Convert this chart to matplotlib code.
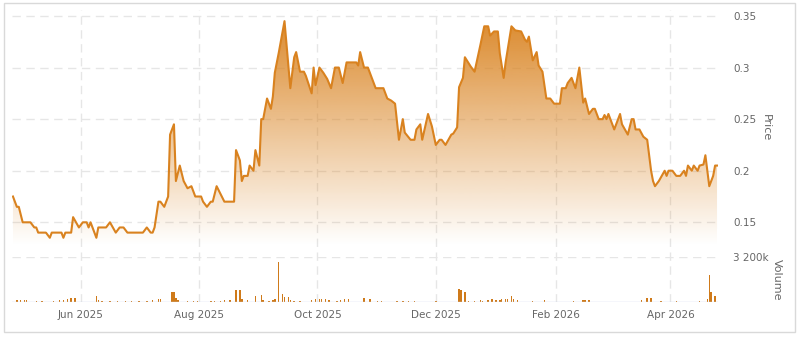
import matplotlib
matplotlib.use('Agg')
import matplotlib.pyplot as plt
import matplotlib.dates as mdates
from matplotlib.patches import Rectangle
import numpy as np
import pandas as pd

# price line, vertices
price_dates = [
    '2025-04-27', '2025-04-29', '2025-04-30', '2025-05-02', '2025-05-06', '2025-05-08', '2025-05-09', '2025-05-10',
    '2025-05-14', '2025-05-16', '2025-05-17', '2025-05-22', '2025-05-23', '2025-05-24', '2025-05-27', '2025-05-28',
    '2025-05-31',
    '2025-06-02', '2025-06-04', '2025-06-05', '2025-06-06', '2025-06-08', '2025-06-09', '2025-06-10', '2025-06-14',
    '2025-06-16', '2025-06-19', '2025-06-21', '2025-06-23', '2025-06-25',
    '2025-07-03', '2025-07-05', '2025-07-07', '2025-07-08', '2025-07-09', '2025-07-11', '2025-07-12', '2025-07-14',
    '2025-07-16', '2025-07-17', '2025-07-19', '2025-07-20', '2025-07-22', '2025-07-24', '2025-07-26', '2025-07-28',
    '2025-07-30',
    '2025-08-02', '2025-08-03', '2025-08-05', '2025-08-07', '2025-08-08', '2025-08-10', '2025-08-14', '2025-08-19',
    '2025-08-20', '2025-08-22', '2025-08-23', '2025-08-24', '2025-08-26', '2025-08-27', '2025-08-29', '2025-08-30',
    '2025-09-01', '2025-09-02', '2025-09-03', '2025-09-05', '2025-09-07', '2025-09-08', '2025-09-09', '2025-09-11',
    '2025-09-14', '2025-09-17', '2025-09-19', '2025-09-20', '2025-09-22', '2025-09-24', '2025-09-25', '2025-09-28',
    '2025-09-29', '2025-09-30',
    '2025-10-02', '2025-10-04', '2025-10-06', '2025-10-08', '2025-10-10', '2025-10-12', '2025-10-14', '2025-10-16',
    '2025-10-21', '2025-10-22', '2025-10-23', '2025-10-25', '2025-10-27', '2025-10-31',
    '2025-11-04', '2025-11-06', '2025-11-08', '2025-11-10', '2025-11-12', '2025-11-14', '2025-11-15', '2025-11-18',
    '2025-11-20', '2025-11-21', '2025-11-23', '2025-11-24', '2025-11-27', '2025-11-29',
    '2025-12-01', '2025-12-03', '2025-12-04', '2025-12-06', '2025-12-09', '2025-12-10', '2025-12-12', '2025-12-13',
    '2025-12-15', '2025-12-16', '2025-12-19', '2025-12-21', '2025-12-24', '2025-12-26', '2025-12-28', '2025-12-29',
    '2025-12-31',
    '2026-01-02', '2026-01-03', '2026-01-05', '2026-01-06', '2026-01-09', '2026-01-11', '2026-01-14', '2026-01-16',
    '2026-01-17', '2026-01-18', '2026-01-20', '2026-01-22', '2026-01-23', '2026-01-25', '2026-01-27', '2026-01-29',
    '2026-01-31',
    '2026-02-03', '2026-02-04', '2026-02-06', '2026-02-07', '2026-02-09', '2026-02-11', '2026-02-13', '2026-02-15',
    '2026-02-16', '2026-02-18', '2026-02-20', '2026-02-21', '2026-02-23', '2026-02-25', '2026-02-26', '2026-02-27',
    '2026-02-28',
    '2026-03-01', '2026-03-03', '2026-03-04', '2026-03-06', '2026-03-07', '2026-03-10', '2026-03-12', '2026-03-13',
    '2026-03-14', '2026-03-16', '2026-03-18', '2026-03-20', '2026-03-22', '2026-03-23', '2026-03-24', '2026-03-26',
    '2026-03-29', '2026-03-30', '2026-03-31',
    '2026-04-02', '2026-04-04', '2026-04-06', '2026-04-08', '2026-04-09', '2026-04-10', '2026-04-12', '2026-04-13',
    '2026-04-15', '2026-04-16', '2026-04-18', '2026-04-19', '2026-04-21', '2026-04-23', '2026-04-24', '2026-04-25',
]
price_values = [
    0.175, 0.165, 0.165, 0.15, 0.15, 0.145, 0.145, 0.14, 0.14, 0.135, 0.14, 0.14, 0.135, 0.14, 0.14, 0.155, 0.145,
    0.15, 0.15, 0.145, 0.15, 0.14, 0.135, 0.145, 0.145, 0.15, 0.14, 0.145, 0.145, 0.14,
    0.14, 0.145, 0.14, 0.14, 0.145, 0.17, 0.17, 0.165, 0.175, 0.235, 0.245, 0.19, 0.205, 0.19, 0.183, 0.185, 0.175,
    0.175, 0.17, 0.165, 0.17, 0.17, 0.185, 0.17, 0.17, 0.22, 0.21, 0.19, 0.195, 0.195, 0.205, 0.2, 0.22,
    0.205, 0.25, 0.25, 0.27, 0.26, 0.272, 0.295, 0.314, 0.345, 0.28, 0.31, 0.315, 0.296, 0.296, 0.292, 0.275, 0.30, 0.283,
    0.30, 0.295, 0.289, 0.28, 0.30, 0.30, 0.285, 0.305, 0.305, 0.302, 0.315, 0.30, 0.30, 0.28,
    0.28, 0.27, 0.268, 0.265, 0.23, 0.25, 0.237, 0.23, 0.23, 0.24, 0.245, 0.23, 0.255, 0.243,
    0.225, 0.23, 0.23, 0.225, 0.235, 0.236, 0.242, 0.281, 0.29, 0.31, 0.301, 0.296, 0.322, 0.34, 0.34, 0.331, 0.335,
    0.335, 0.314, 0.29, 0.305, 0.34, 0.336, 0.335, 0.327, 0.325, 0.33, 0.307, 0.315, 0.302, 0.296, 0.27, 0.27, 0.265,
    0.265, 0.28, 0.28, 0.285, 0.29, 0.28, 0.30, 0.266, 0.27, 0.255, 0.26, 0.26, 0.25, 0.25, 0.254, 0.25, 0.255,
    0.25, 0.24, 0.245, 0.255, 0.245, 0.235, 0.25, 0.25, 0.24, 0.24, 0.233, 0.23, 0.2, 0.19, 0.185, 0.19, 0.2, 0.195, 0.2,
    0.2, 0.195, 0.195, 0.2, 0.195, 0.205, 0.2, 0.205, 0.2, 0.205, 0.206, 0.215, 0.185, 0.195, 0.205, 0.205,
]

# volume bars (thousands)
vol_dates = [
    '2025-04-29', '2025-05-01', '2025-05-03', '2025-05-04', '2025-05-09', '2025-05-12', '2025-05-18', '2025-05-21',
    '2025-05-23', '2025-05-25', '2025-05-27', '2025-05-29',
    '2025-06-09', '2025-06-10', '2025-06-12', '2025-06-16', '2025-06-20', '2025-06-24', '2025-06-27',
    '2025-07-01', '2025-07-05', '2025-07-08', '2025-07-11', '2025-07-12', '2025-07-18', '2025-07-19', '2025-07-20',
    '2025-07-21', '2025-07-26', '2025-07-29', '2025-07-31',
    '2025-08-07', '2025-08-09', '2025-08-12', '2025-08-14', '2025-08-17', '2025-08-20', '2025-08-22', '2025-08-23',
    '2025-08-26', '2025-08-30',
    '2025-09-02', '2025-09-03', '2025-09-06', '2025-09-08', '2025-09-09', '2025-09-11', '2025-09-13', '2025-09-14',
    '2025-09-16', '2025-09-17', '2025-09-19', '2025-09-22', '2025-09-28', '2025-09-30',
    '2025-10-02', '2025-10-03', '2025-10-05', '2025-10-07', '2025-10-11', '2025-10-13', '2025-10-15', '2025-10-17',
    '2025-10-25', '2025-10-28',
    '2025-11-01', '2025-11-03', '2025-11-11', '2025-11-14', '2025-11-17', '2025-11-20',
    '2025-12-01', '2025-12-13', '2025-12-14', '2025-12-16', '2025-12-18', '2025-12-21', '2025-12-24', '2025-12-25',
    '2025-12-28', '2025-12-30',
    '2026-01-01', '2026-01-03', '2026-01-04', '2026-01-06', '2026-01-07', '2026-01-09', '2026-01-10', '2026-01-12',
    '2026-01-20', '2026-01-26',
    '2026-02-10', '2026-02-15', '2026-02-16', '2026-02-18',
    '2026-03-17', '2026-03-20', '2026-03-22', '2026-03-27',
    '2026-04-04', '2026-04-16', '2026-04-20', '2026-04-21', '2026-04-22', '2026-04-24',
]
vol_values = [
    160, 120, 120, 120, 90, 90, 90, 120, 140, 190, 300, 300,
    430, 140, 90, 90, 90, 90, 90,
    90, 90, 120, 210, 210, 710, 710, 280, 140, 70, 70, 70,
    90, 70, 70, 120, 140, 850, 850, 210, 120, 430,
    500, 140, 90, 140, 210, 2850, 570, 360, 360, 160, 90, 90, 120, 210,
    230, 230, 190, 140, 90, 140, 190, 190, 280, 210,
    90, 90, 70, 70, 70, 70,
    70, 920, 850, 710, 90, 90, 160, 90, 120, 210,
    120, 160, 190, 190, 210, 430, 230, 120, 70, 120,
    90, 140, 160, 120,
    160, 260, 310, 70,
    90, 70, 210, 1900, 740, 400,
]

price_ticks = [0.15, 0.2, 0.25, 0.3, 0.35]
price_labels = ['0.15', '0.2', '0.25', '0.3', '0.35']

line_c = '#d9821f'
bar_c = '#cf7a1a'
grid_c = '#e6e6e6'
text_c = '#666666'

W, H = 800, 337


def box(x0, y0, x1, y1):
    # pixel box (top-left origin) -> figure fraction rect
    return [x0 / W, 1 - y1 / H, (x1 - x0) / W, (y1 - y0) / H]


pd_dates = pd.to_datetime(price_dates)
vd = pd.to_datetime(vol_dates)
xmin = mdates.date2num(pd.Timestamp('2025-04-26 12:00'))
xmax = mdates.date2num(pd.Timestamp('2026-04-25 12:00'))
pmin, pmax = 0.128, 0.3558

fig = plt.figure(figsize=(8, 3.37), dpi=100)
fig.patches.append(Rectangle((4 / W, 1 - 332 / H), 791 / W, 329 / H, transform=fig.transFigure,
                             fill=False, edgecolor='#d9d9d9', lw=1))

# background axes carries the month grid and labels for both panes
ax_bg = fig.add_axes(box(12, 10, 718, 302))
ax_bg.set_xlim(xmin, xmax)
ax_bg.set_yticks([])
ax_bg.xaxis.set_major_locator(mdates.MonthLocator(bymonth=[2, 4, 6, 8, 10, 12]))
ax_bg.xaxis.set_major_formatter(mdates.DateFormatter('%b %Y'))
ax_bg.tick_params(axis='x', length=0, pad=6, labelsize=7.5, labelcolor=text_c)
ax_bg.grid(axis='x', color=grid_c, lw=1, dashes=(6, 4))
for s in ax_bg.spines.values():
    s.set_visible(False)

# price pane
ax_p = fig.add_axes(box(12, 10, 718, 245))
ax_p.set_facecolor('none')
poly = ax_p.fill_between(pd_dates, price_values, pmin, color='none', lw=0)
grad = np.zeros((256, 1, 4))
grad[:, 0, :3] = matplotlib.colors.to_rgb(line_c)
grad[:, 0, 3] = np.linspace(0.0, 0.97, 256)
im = ax_p.imshow(grad, extent=[xmin, xmax, pmin, pmax], origin='lower', aspect='auto', zorder=1)
im.set_clip_path(poly.get_paths()[0], transform=ax_p.transData)
ax_p.plot(pd_dates, price_values, color=line_c, lw=1.5, zorder=3)
ax_p.set_xlim(xmin, xmax)
ax_p.set_ylim(pmin, pmax)
ax_p.set_xticks([])
ax_p.yaxis.tick_right()
ax_p.set_yticks(price_ticks)
ax_p.set_yticklabels(price_labels)
ax_p.tick_params(axis='y', length=0, pad=11, labelsize=7.5, labelcolor=text_c)
ax_p.grid(axis='y', color=grid_c, lw=1, dashes=(6, 4), zorder=0)
ax_p.set_axisbelow(True)
for s in ax_p.spines.values():
    s.set_visible(False)

# volume pane
ax_v = fig.add_axes(box(12, 257, 718, 302))
ax_v.set_facecolor('none')
ax_v.bar(vd, vol_values, width=0.75, color=bar_c, lw=0, zorder=2)
ax_v.axhline(0, color='#ccd6eb', lw=1, zorder=3)
ax_v.set_xlim(xmin, xmax)
ax_v.set_ylim(0, 3200)
ax_v.set_xticks([])
ax_v.yaxis.tick_right()
ax_v.set_yticks([3200])
ax_v.set_yticklabels(['3 200k'])
ax_v.tick_params(axis='y', length=0, pad=11, labelsize=7.5, labelcolor=text_c)
ax_v.grid(axis='y', color=grid_c, lw=1, dashes=(6, 4), zorder=0)
for s in ax_v.spines.values():
    s.set_visible(False)

fig.text(766 / W, 1 - 128 / H, 'Price', rotation=270, ha='center', va='center', fontsize=8, color=text_c)
fig.text(777 / W, 1 - 280 / H, 'Volume', rotation=270, ha='center', va='center', fontsize=8, color=text_c)

fig.savefig('out.png', dpi=100)
